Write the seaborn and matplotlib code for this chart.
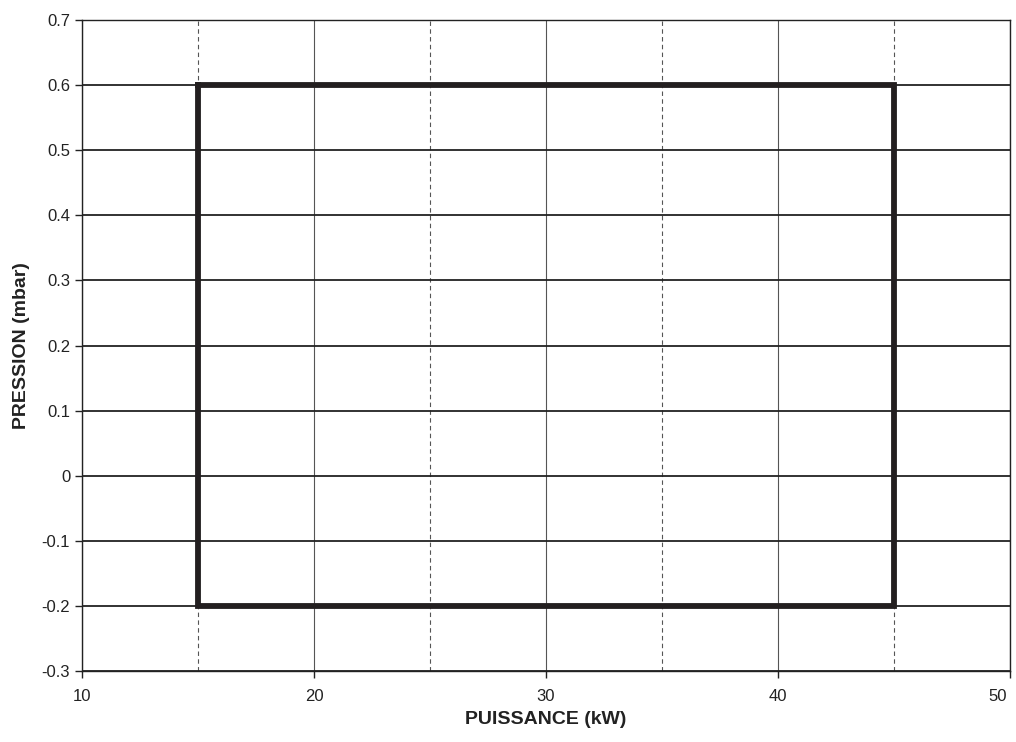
import numpy as np
import matplotlib
matplotlib.use("Agg")
import matplotlib.pyplot as plt
import matplotlib.transforms as mtransforms
import seaborn as sns
import pandas as pd
from matplotlib.ticker import MultipleLocator

sns.set_style("white")
plt.rcParams['font.family'] = ['Liberation Sans', 'DejaVu Sans']

# operating range envelope
puissance = [15, 45, 45, 15, 15]
pression = [0.6, 0.6, -0.2, -0.2, 0.6]
x_ticks = [10, 20, 30, 40, 50]
df = pd.DataFrame({"PUISSANCE (kW)": puissance, "PRESSION (mbar)": pression})

fig = plt.figure(figsize=(10.16, 7.42), dpi=100)
ax = fig.add_axes([0.0807, 0.0957, 0.9133, 0.8773])

ax.set_xlim(10, 50)
ax.set_ylim(-0.3, 0.7)
ax.set_xticks(x_ticks, labels=[str(t) for t in x_ticks])
ax.xaxis.set_minor_locator(MultipleLocator(5))
ax.yaxis.set_major_locator(MultipleLocator(0.1))
ax.yaxis.set_major_formatter(matplotlib.ticker.FuncFormatter(
    lambda v, p: "0" if abs(v) < 1e-9 else f"{v:.1f}"))

ax.grid(True, which="major", axis="y", color="#222222", linewidth=1.3, zorder=1)
ax.grid(True, which="major", axis="x", color="#555555", linewidth=0.8, zorder=1)
ax.grid(True, which="minor", axis="x", color="#555555", linewidth=0.8, linestyle=(0, (4, 3)), zorder=1)
ax.set_axisbelow(True)

sns.lineplot(data=df, x="PUISSANCE (kW)", y="PRESSION (mbar)", sort=False,
             estimator=None, errorbar=None,
             color="#231f20", linewidth=4.2, ax=ax, zorder=3,
             solid_joinstyle="miter", solid_capstyle="projecting")

for s in ax.spines.values():
    s.set_color("#222222")
    s.set_linewidth(1.0)

ax.tick_params(axis="both", which="major", direction="out", length=5, width=1,
               color="#222222", labelsize=12, labelcolor="#222222", bottom=True, left=True)
ax.tick_params(axis="x", which="minor", length=0)
ax.tick_params(axis="x", which="major", pad=8)

# last x label sits inside the figure edge
last = ax.get_xticklabels()[-1]
last.set_transform(last.get_transform() +
                   mtransforms.ScaledTranslation(-9 / 72, 0, fig.dpi_scale_trans))

ax.set_xlabel("PUISSANCE (kW)", fontsize=14, fontweight="bold", labelpad=5, color="#222222")
ax.set_ylabel("PRESSION (mbar)", fontsize=14, fontweight="bold", labelpad=8, color="#222222")

fig.savefig("out.png", dpi=100)
